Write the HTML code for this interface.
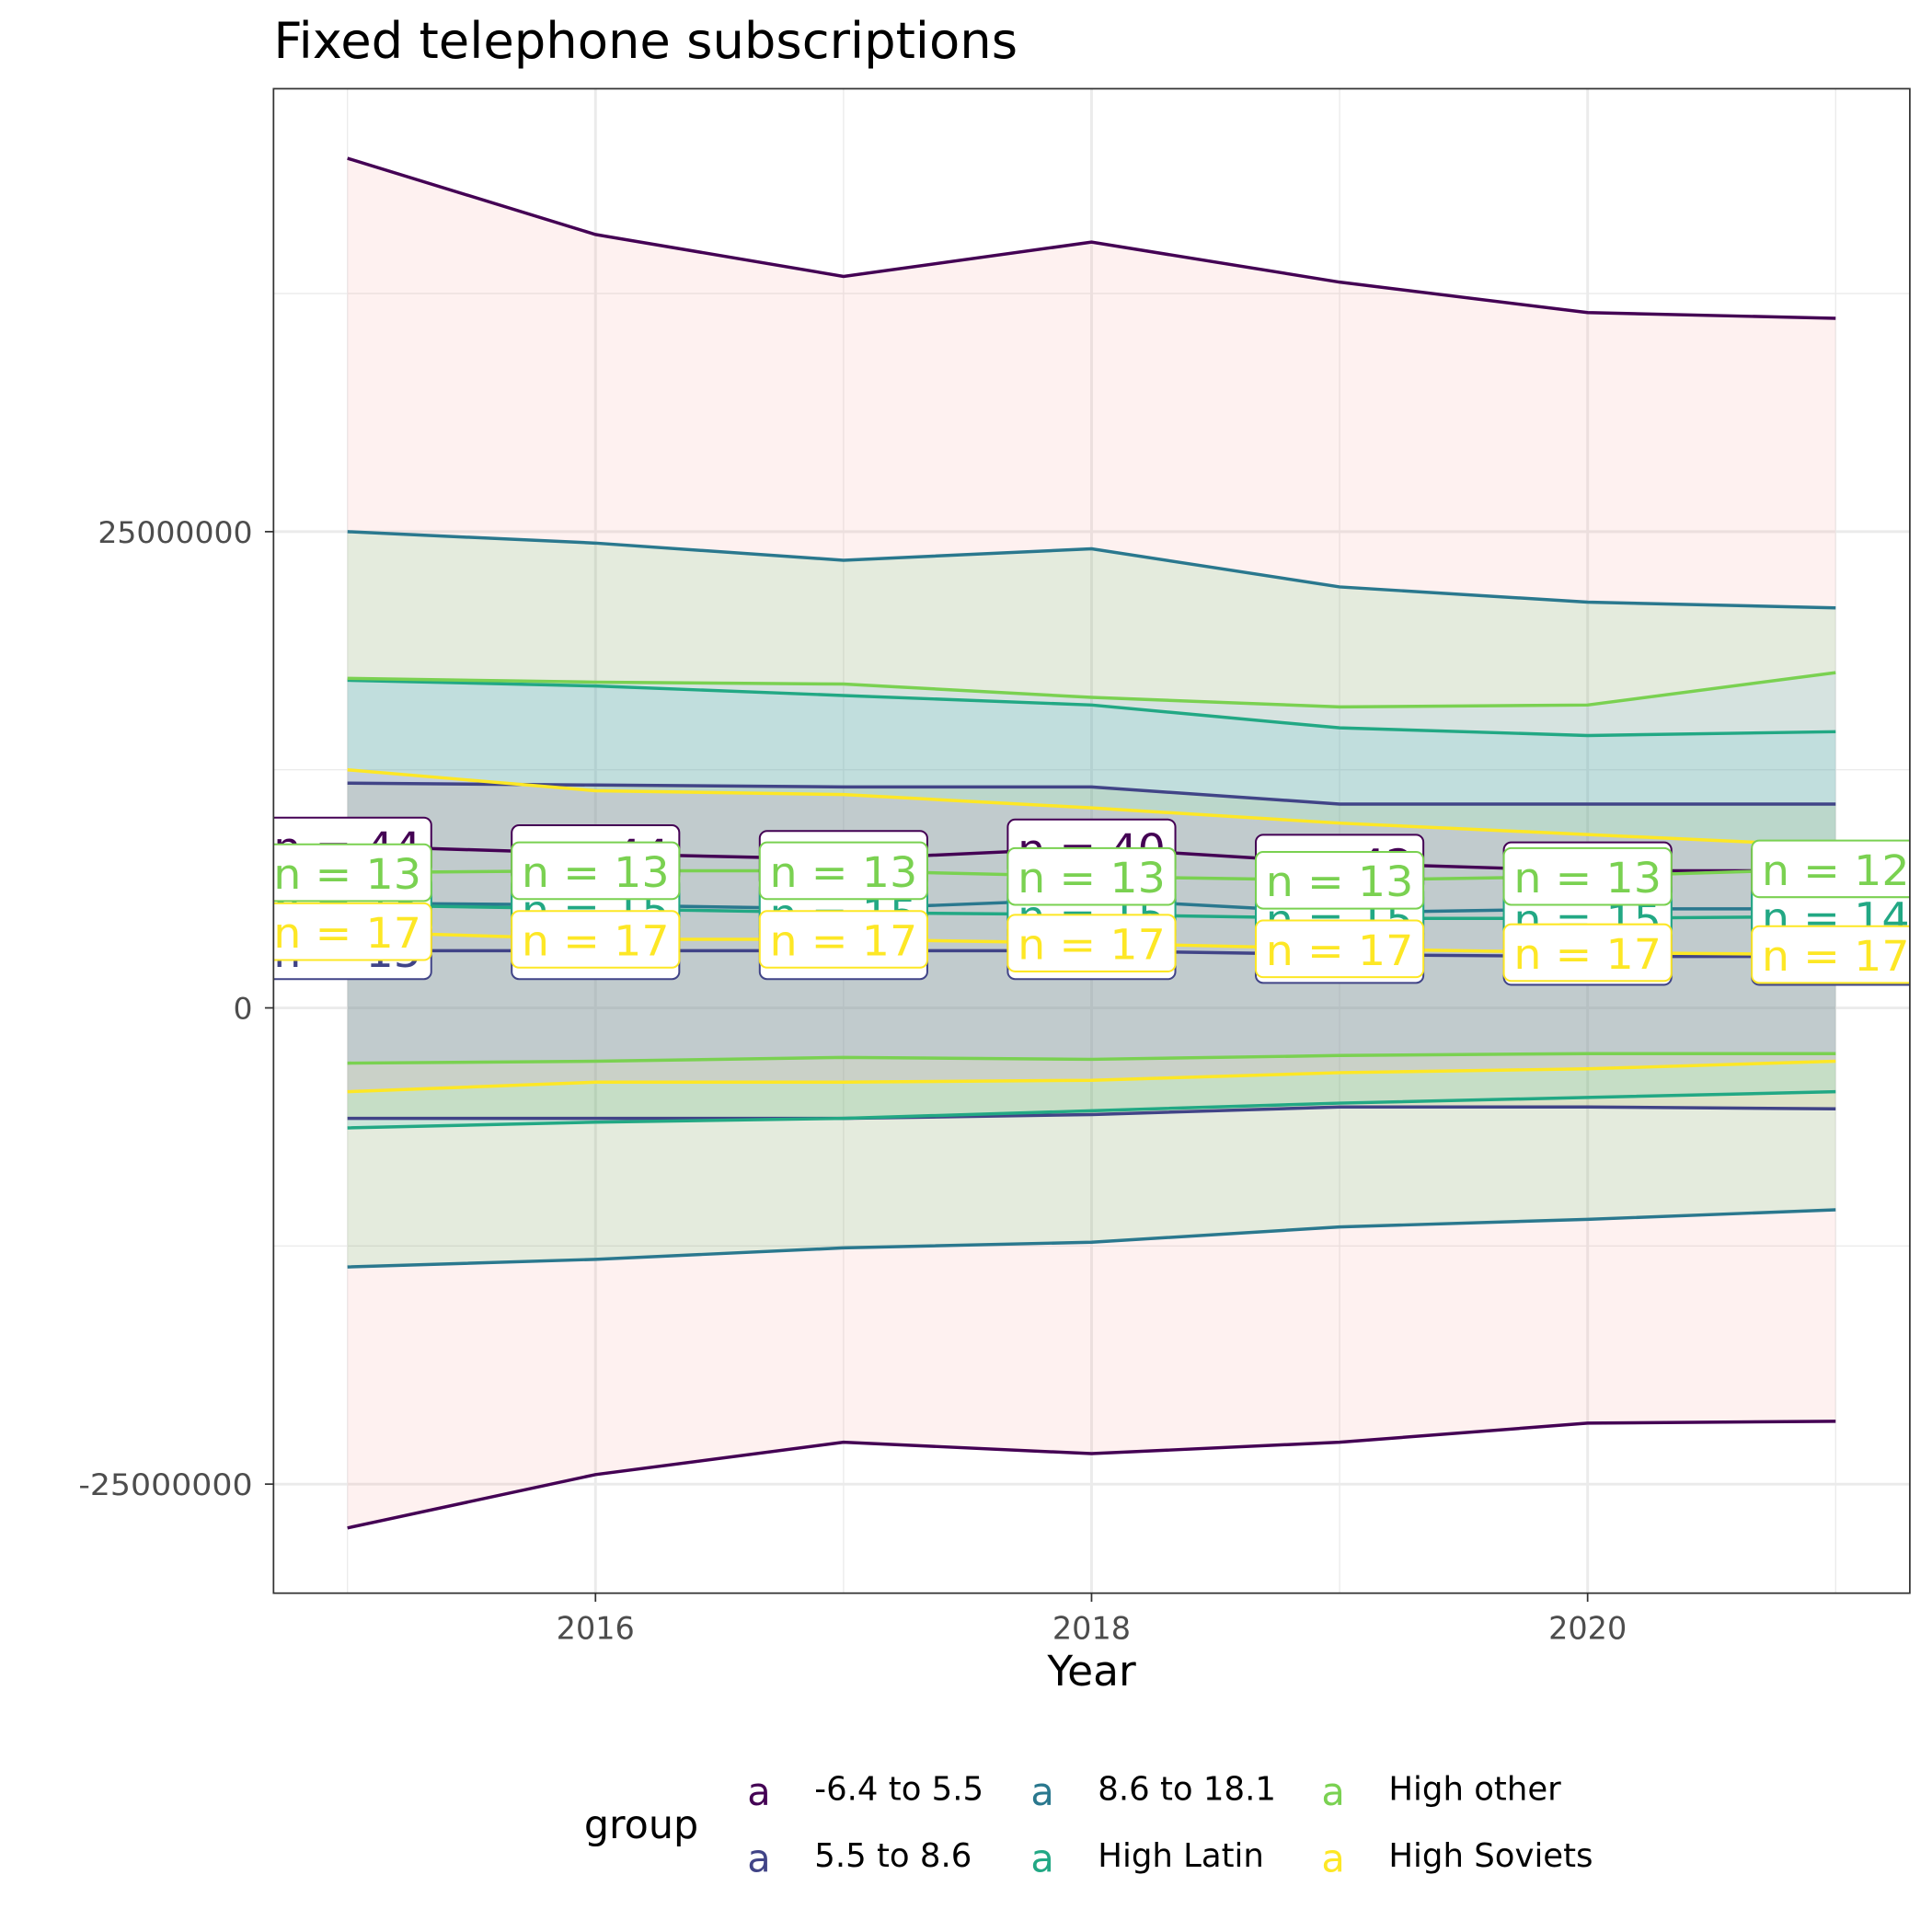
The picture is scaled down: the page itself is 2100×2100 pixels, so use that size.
<!DOCTYPE html>
<html><head><meta charset="utf-8"><style>
html,body{margin:0;padding:0;background:#fff;}
svg{display:block;font-family:"DejaVu Sans","Liberation Sans",sans-serif;}
</style></head><body>
<svg id="chart" width="2100" height="2100" viewBox="0 0 1568 1568" xmlns="http://www.w3.org/2000/svg">
<defs><clipPath id="pclip"><rect x="222" y="72" width="1328" height="1221"/></clipPath></defs>
<rect x="0" y="0" width="1568" height="1568" fill="#fff"/>
<text x="222" y="47" font-size="40.6" fill="#000">Fixed telephone subscriptions</text>
<g id="grid" clip-path="url(#pclip)"></g>
<g id="plot" clip-path="url(#pclip)"></g>
<rect x="222" y="72" width="1328" height="1221" fill="none" stroke="#333" stroke-width="1.3"/>
<g id="axes"></g>
<text x="886" y="1368" font-size="34" text-anchor="middle" fill="#000">Year</text>
<g id="legend"></g>
</svg>
<script>
const years = [2015,2016,2017,2018,2019,2020,2021];
const groups = ["-6.4 to 5.5","5.5 to 8.6","8.6 to 18.1","High Latin","High other","High Soviets"];
// values in millions
const upper_g1 = [44.6,40.6,38.4,40.2,38.1,36.5,36.2];
const mean_g1  = [8.5,8.1,7.8,8.4,7.6,7.2,7.2];
const lower_g1 = [-27.3,-24.5,-22.8,-23.4,-22.8,-21.8,-21.7];
const upper_g2 = [11.8,11.7,11.6,11.6,10.7,10.7,10.7];
const mean_g2  = [3.0,3.0,3.0,3.0,2.8,2.7,2.7];
const lower_g2 = [-5.8,-5.8,-5.8,-5.6,-5.2,-5.2,-5.3];
const upper_g3 = [25.0,24.4,23.5,24.1,22.1,21.3,21.0];
const mean_g3  = [5.5,5.4,5.2,5.7,5.0,5.2,5.2];
const lower_g3 = [-13.6,-13.2,-12.6,-12.3,-11.5,-11.1,-10.6];
const upper_g4 = [17.2,16.9,16.4,15.9,14.7,14.3,14.5];
const mean_g4  = [5.4,5.2,5.0,4.9,4.7,4.7,4.8];
const lower_g4 = [-6.3,-6.0,-5.8,-5.4,-5.0,-4.7,-4.4];
const upper_g5 = [17.3,17.1,17.0,16.3,15.8,15.9,17.6];
const mean_g5  = [7.1,7.2,7.2,6.9,6.7,6.9,7.3];
const lower_g5 = [-2.9,-2.8,-2.6,-2.7,-2.5,-2.4,-2.4];
const upper_g6 = [12.5,11.4,11.2,10.5,9.7,9.1,8.5];
const mean_g6  = [4.0,3.6,3.6,3.4,3.1,2.9,2.8];
const lower_g6 = [-4.4,-3.9,-3.9,-3.8,-3.4,-3.2,-2.8];
const n_g1 = [44,44,43,40,42,42,41];
const n_g2 = [15,15,15,15,15,15,15];
const n_g3 = [15,15,15,15,15,15,15];
const n_g4 = [15,15,15,15,15,15,14];
const n_g5 = [13,13,13,13,13,13,12];
const n_g6 = [17,17,17,17,17,17,17];
const yTicks = [-25000000,0,25000000];
const xTicks = [2016,2018,2020];

const colors = ["#440154","#414487","#2A788E","#22A884","#7AD151","#FDE725"];
const fills = ["#F8766D","#B79F00","#00BA38","#00BFC4","#619CFF","#F564E3"];
const uppers=[upper_g1,upper_g2,upper_g3,upper_g4,upper_g5,upper_g6];
const means=[mean_g1,mean_g2,mean_g3,mean_g4,mean_g5,mean_g6];
const lowers=[lower_g1,lower_g2,lower_g3,lower_g4,lower_g5,lower_g6];
const ns=[n_g1,n_g2,n_g3,n_g4,n_g5,n_g6];

const NS="http://www.w3.org/2000/svg";
const X = y => 282 + (y-2015)*201.3;
const Y = v => 818 - v/25*386.5;
const Yr = v => 818 - v/25000000*386.5;
function mk(tag, attrs, parent){const e=document.createElementNS(NS,tag);for(const k in attrs)e.setAttribute(k,attrs[k]);parent.appendChild(e);return e;}

const grid=document.getElementById('grid');
for(const v of [-12500000,12500000,37500000]){
  const l=mk('line',{x1:222,x2:1550,y1:Yr(v),y2:Yr(v),stroke:'#ebebeb','stroke-width':1},grid);
  
  
}
for(const yr of [2015,2017,2019,2021]){
  const l=mk('line',{x1:X(yr),x2:X(yr),y1:72,y2:1293,stroke:'#ebebeb','stroke-width':1},grid);
  
  
}
for(const v of yTicks){
  const l=mk('line',{x1:222,x2:1550,y1:Yr(v),y2:Yr(v),stroke:'#ebebeb','stroke-width':2.2},grid);
  
  
}
for(const yr of xTicks){
  const l=mk('line',{x1:X(yr),x2:X(yr),y1:72,y2:1293,stroke:'#ebebeb','stroke-width':2.2},grid);
  
  
}

const plot=document.getElementById('plot');
for(let g=0;g<6;g++){
  let d='M'+years.map((yr,i)=>X(yr)+','+Y(uppers[g][i])).join('L');
  d+='L'+years.map((yr,i)=>[X(yr),Y(lowers[g][i])]).reverse().map(p=>p.join(',')).join('L')+'Z';
  const p=mk('path',{d:d,fill:fills[g],'fill-opacity':0.1,stroke:'none'},plot);
  
  
}
for(let g=0;g<6;g++){
  for(const [arr,nm] of [[uppers[g],'upper'],[means[g],'mean'],[lowers[g],'lower']]){
    const pts=years.map((yr,i)=>X(yr)+','+Y(arr[i])).join(' ');
    const l=mk('polyline',{points:pts,fill:'none',stroke:colors[g],'stroke-width':2.6},plot);
    
    
  }
}
for(let g=0;g<6;g++){
  years.forEach((yr,i)=>{
    const cx=X(yr), cy=Y(means[g][i]);
    const gg=mk('g',{},plot);
    
    
    mk('rect',{x:cx-68,y:cy-23,width:136,height:46,rx:6,fill:'#fff',stroke:colors[g],'stroke-width':1.5},gg);
    const t=mk('text',{x:cx,y:cy+13,'font-size':34,'text-anchor':'middle',fill:colors[g],textLength:120,lengthAdjust:'spacingAndGlyphs'},gg);
    t.textContent='n = '+ns[g][i];
  });
}
const axes=document.getElementById('axes');
for(const v of yTicks){
  const t=mk('text',{x:205,y:Yr(v)+9,'font-size':24,'text-anchor':'end',fill:'#4d4d4d',textLength:String(v).length*15.7,lengthAdjust:'spacingAndGlyphs'},axes);
  t.textContent=String(v);
  
  
  mk('line',{x1:215,x2:222,y1:Yr(v),y2:Yr(v),stroke:'#333','stroke-width':1.3},axes);
}
for(const yr of xTicks){
  const t=mk('text',{x:X(yr),y:1330,'font-size':25,'text-anchor':'middle',fill:'#4d4d4d'},axes);
  t.textContent=String(yr);
  
  
  mk('line',{x1:X(yr),x2:X(yr),y1:1293,y2:1300,stroke:'#333','stroke-width':1.3},axes);
}
const leg=document.getElementById('legend');
const lt=mk('text',{x:474,y:1492,'font-size':32,fill:'#000'},leg);
lt.textContent='group';


const colX=[616,846,1082], rowY=[1465,1519];
groups.forEach((nm,g)=>{
  const c=Math.floor(g/2), r=g%2;
  const e=mk('g',{},leg);
  
  
  const a=mk('text',{x:colX[c],y:rowY[r],'font-size':31,'text-anchor':'middle',fill:colors[g]},e);
  a.textContent='a';
  const t=mk('text',{x:colX[c]+45,y:rowY[r]-4,'font-size':26.5,fill:'#000'},e);
  t.textContent=nm;
});
</script>
</body></html>
